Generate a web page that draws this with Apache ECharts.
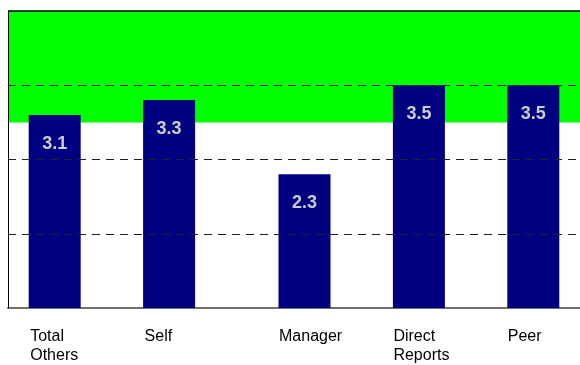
<!DOCTYPE html>
<html>
<head>
<meta charset="utf-8">
<script src="https://cdn.jsdelivr.net/npm/echarts@6/dist/echarts.min.js"></script>
<style>
  html, body { margin: 0; padding: 0; background: #ffffff; overflow: hidden; }
  #chart { width: 580px; height: 365px; }
</style>
</head>
<body>
<div id="chart"></div>
<script>
// Rater categories and their mean scores
const categories = ['Total\nOthers', 'Self', 'Manager', 'Direct\nReports', 'Peer'];
const scores = [3.1, 3.3, 2.3, 3.5, 3.5];
// Which cluster each rater belongs to (self-related vs. other raters)
const clusters = [0, 0, 1, 1, 1];
// Score scale, reference lines and the target band
const scaleMin = 0.5;
const scaleMax = 4.5;
const referenceLines = [1.5, 2.5, 3.5];
const targetBand = [3.0, 4.5];

const FONT = "'Liberation Sans', Arial, sans-serif";

function clusterData(c) {
  return scores.map((v, i) => (clusters[i] === c ? v : '-'));
}

const valueLabel = {
  show: true,
  position: 'insideTop',
  distance: 20,
  color: '#cccccc',
  fontFamily: FONT,
  fontSize: 18,
  fontWeight: 'bold',
  formatter: p => p.value.toFixed(1)
};

const chart = echarts.init(document.getElementById('chart'), null, { renderer: 'canvas' });

chart.setOption({
  animation: false,
  backgroundColor: '#ffffff',
  grid: {
    left: 8,
    top: 11,
    width: 575,
    height: 298,
    show: false
  },
  xAxis: {
    type: 'category',
    data: categories,
    axisLine: { show: true, lineStyle: { color: '#707070', width: 2 } },
    axisTick: { show: false },
    axisLabel: {
      interval: 0,
      margin: 19,
      align: 'center',
      color: '#000000',
      fontFamily: FONT,
      fontSize: 16,
      lineHeight: 19,
      formatter: (value, index) => {
        const tag = clusters[index] === 0 ? 'a' : 'b';
        return value.split('\n').map(line => '{' + tag + '|' + line + '}').join('\n');
      },
      rich: {
        a: { width: 70, align: 'left', fontFamily: FONT, fontSize: 16, lineHeight: 19, color: '#000000' },
        b: { width: 30, align: 'left', fontFamily: FONT, fontSize: 16, lineHeight: 19, color: '#000000' }
      }
    }
  },
  yAxis: {
    type: 'value',
    min: scaleMin,
    max: scaleMax,
    interval: 1,
    z: 5,
    axisLine: { show: true, lineStyle: { color: '#000000', width: 1 } },
    axisTick: { show: false },
    axisLabel: { show: false },
    splitLine: { show: false }
  },
  series: [
    {
      type: 'bar',
      data: clusterData(0),
      barWidth: 52,
      barGap: '-59.6%',
      itemStyle: { color: '#000080' },
      label: valueLabel,
      markArea: {
        silent: true,
        itemStyle: { color: '#00ff00' },
        data: [[{ yAxis: targetBand[0] }, { yAxis: targetBand[1] }]]
      },
      markLine: {
        silent: true,
        symbol: 'none',
        z: 10,
        label: { show: false },
        data: referenceLines.map(v => ({
          yAxis: v,
          lineStyle: { color: '#222222', type: [8, 6], width: 1 }
        })).concat([{
          yAxis: scaleMax,
          lineStyle: { color: '#000000', type: 'solid', width: 1.5 }
        }])
      }
    },
    {
      type: 'bar',
      data: clusterData(1),
      barWidth: 52,
      itemStyle: { color: '#000080' },
      label: valueLabel
    }
  ]
});
</script>
</body>
</html>
